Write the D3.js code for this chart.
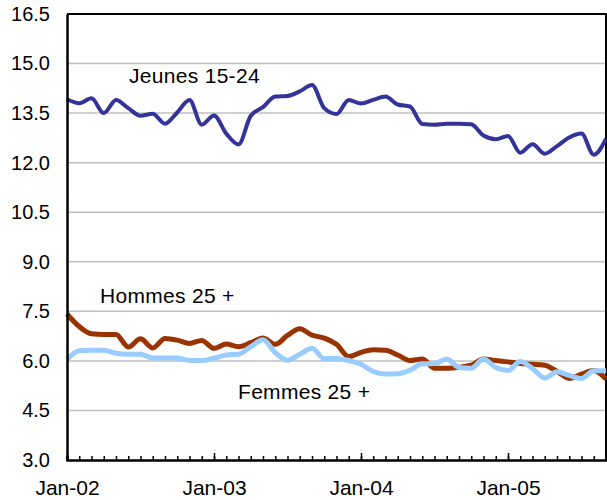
<!DOCTYPE html>
<html>
<head>
<meta charset="utf-8">
<script src="https://cdn.jsdelivr.net/npm/d3@7"></script>
<style>
  body { margin: 0; background: #fff; }
  text { font-family: "Liberation Sans", Arial, sans-serif; }
</style>
</head>
<body>
<div id="chart-area"></div>
<script>

let width = 607,
height = 500;

let margin = {top: 14, right: 1, bottom: 40, left: 67};

// months Jan-02 .. Sep-05
let months = ("Jan-02 Feb-02 Mar-02 Apr-02 May-02 Jun-02 Jul-02 Aug-02 Sep-02 Oct-02 Nov-02 Dec-02 " +
	"Jan-03 Feb-03 Mar-03 Apr-03 May-03 Jun-03 Jul-03 Aug-03 Sep-03 Oct-03 Nov-03 Dec-03 " +
	"Jan-04 Feb-04 Mar-04 Apr-04 May-04 Jun-04 Jul-04 Aug-04 Sep-04 Oct-04 Nov-04 Dec-04 " +
	"Jan-05 Feb-05 Mar-05 Apr-05 May-05 Jun-05 Jul-05 Aug-05 Sep-05").split(" ");

let xTickLabels = ["Jan-02", "Jan-03", "Jan-04", "Jan-05"];
let yTicks = [3.0, 4.5, 6.0, 7.5, 9.0, 10.5, 12.0, 13.5, 15.0, 16.5];

let jeunes = [13.92, 13.8, 13.95, 13.5, 13.9, 13.65, 13.42, 13.48, 13.18, 13.52, 13.9, 13.15,
	13.43, 12.88, 12.55, 13.42, 13.68, 14.0, 14.02, 14.16, 14.35, 13.65, 13.47, 13.9,
	13.79, 13.9, 14.0, 13.76, 13.7, 13.17, 13.15, 13.18, 13.18, 13.16, 12.82, 12.71,
	12.81, 12.3, 12.56, 12.27, 12.5, 12.76, 12.88, 12.24, 12.72];

let hommes = [7.42, 7.04, 6.82, 6.8, 6.8, 6.42, 6.67, 6.39, 6.68, 6.63, 6.53, 6.62,
	6.38, 6.51, 6.43, 6.55, 6.69, 6.5, 6.77, 6.97, 6.78, 6.69, 6.5, 6.13,
	6.26, 6.34, 6.32, 6.18, 6.01, 6.06, 5.78, 5.78, 5.81, 5.87, 6.06, 6.01,
	5.97, 5.92, 5.9, 5.87, 5.68, 5.47, 5.6, 5.71, 5.45];

let femmes = [6.04, 6.31, 6.32, 6.32, 6.23, 6.2, 6.2, 6.09, 6.09, 6.09, 6.01, 6.01,
	6.08, 6.18, 6.2, 6.43, 6.64, 6.25, 6.02, 6.2, 6.38, 6.07, 6.07, 6.01,
	5.9, 5.68, 5.6, 5.61, 5.72, 5.91, 5.92, 6.06, 5.8, 5.78, 6.06, 5.8,
	5.71, 5.98, 5.77, 5.48, 5.67, 5.56, 5.47, 5.7, 5.7];

let svg = d3.select("#chart-area").append("svg")
	.attr("width", width)
	.attr("height", height);

let x = d3.scalePoint()
	.domain(months)
	.range([margin.left, width - margin.right])
	.padding(0);

let y = d3.scaleLinear()
	.domain([3, 16.5])
	.range([height - margin.bottom, margin.top]);

// gridlines
svg.selectAll(".grid")
	.data(yTicks.slice(1, -1))
	.enter()
	.append("line")
	.attr("class", "grid")
	.attr("x1", margin.left)
	.attr("x2", width - margin.right)
	.attr("y1", d => y(d))
	.attr("y2", d => y(d))
	.attr("stroke", "#c0c0c0")
	.attr("stroke-width", 1.5);

// frame (top and right)
svg.append("path")
	.attr("d", "M" + margin.left + "," + y(16.5) + "H" + x(months[months.length - 1]) + "V" + y(3))
	.attr("fill", "none")
	.attr("stroke", "#000")
	.attr("stroke-width", 2);

let line = d3.line()
	.x((d, i) => x(months[i]))
	.y(d => y(d))
	.curve(d3.curveMonotoneX);

svg.append("path")
	.datum(jeunes)
	.attr("d", line)
	.attr("fill", "none")
	.attr("stroke", "#333399")
	.attr("stroke-width", 4)
	.attr("stroke-linejoin", "round");

svg.append("path")
	.datum(hommes)
	.attr("d", line)
	.attr("fill", "none")
	.attr("stroke", "#993300")
	.attr("stroke-width", 5)
	.attr("stroke-linejoin", "round");

svg.append("path")
	.datum(femmes)
	.attr("d", line)
	.attr("fill", "none")
	.attr("stroke", "#99ccff")
	.attr("stroke-width", 5)
	.attr("stroke-linejoin", "round");

// y axis
let yAxis = svg.append("g")
	.attr("transform", "translate(" + margin.left + ",0)")
	.call(d3.axisLeft(y).tickValues(yTicks).tickFormat(d3.format(".1f")).tickSize(0).tickPadding(17));
yAxis.select(".domain").attr("stroke-width", 2.5);
yAxis.selectAll("text").attr("font-size", 20).attr("fill", "#000");

// x axis: monthly minor ticks, january major ticks
let xMinor = svg.append("g")
	.attr("transform", "translate(0," + (height - margin.bottom) + ")")
	.call(d3.axisBottom(x).tickValues(months).tickSize(-4).tickFormat(""));
xMinor.select(".domain").attr("stroke-width", 2.5);
xMinor.selectAll(".tick line").attr("stroke-width", 1.5);

let xMajor = svg.append("g")
	.attr("transform", "translate(0," + (height - margin.bottom) + ")")
	.call(d3.axisBottom(x).tickValues(xTickLabels).tickSize(-7).tickPadding(20));
xMajor.select(".domain").remove();
xMajor.selectAll(".tick line").attr("stroke-width", 1.5);
xMajor.selectAll("text").attr("font-size", 21).attr("fill", "#000");

// series labels
let labels = [
	{name: "Jeunes 15-24", x: 129, y: 83},
	{name: "Hommes 25 +", x: 100, y: 303},
	{name: "Femmes 25 +", x: 238, y: 399}
];
svg.selectAll(".label")
	.data(labels)
	.enter()
	.append("text")
	.attr("class", "label")
	.attr("x", d => d.x)
	.attr("y", d => d.y)
	.attr("font-size", 21)
	.attr("letter-spacing", 0.3)
	.attr("fill", "#000")
	.text(d => d.name);

</script>
</body>
</html>
